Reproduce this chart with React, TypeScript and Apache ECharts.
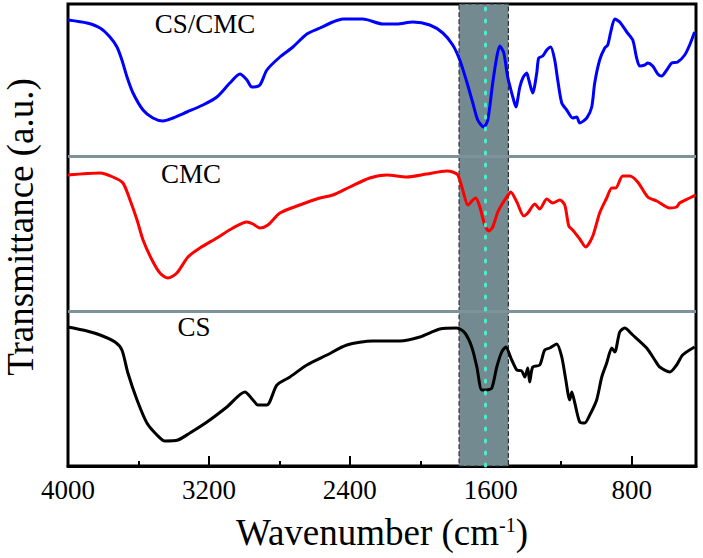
import React, { useEffect, useRef } from "react";
import * as echarts from "echarts";

// X axis ticks (wavenumber, cm^-1)
const majorTicks = [4000, 3200, 2400, 1600, 800];
const minorTicks = [3600, 2800, 2000, 1200];

// CS/CMC (blue)
const csCmcWn = [4000,3892,3818,3762,3722,3694,3665,3631,3574,3518,3461,3404,3325,3234,3155,3081,3024,2984,2956,2911,2871,2797,2723,2644,2570,2496,2440,2326,2213,2133,2043,1946,1872,1816,1776,1736,1702,1674,1640,1617,1589,1566,1549,1526,1504,1475,1458,1435,1418,1396,1384,1362,1339,1328,1305,1282,1260,1237,1220,1197,1169,1135,1112,1095,1055,1027,1010,982,953,936,919,896,868,828,794,772,755,726,709,681,652,630,601,573,539,499,471,443];
const csCmcT = [446,443,438,429,419,406,389,373,356,348,345,348,354,361,369,383,392,386,379,381,396,409,419,432,438,444,447,447,442,442,444,441,433,421,406,384,363,346,339,346,383,409,420,413,389,369,359,379,388,393,386,373,393,408,410,416,419,406,386,363,356,348,349,343,348,359,383,406,418,421,434,447,444,434,426,408,400,401,403,400,392,390,396,403,404,411,421,434];

// CMC (red)
const cmcWn = [4000,3818,3745,3688,3648,3608,3574,3523,3478,3433,3382,3319,3251,3155,3064,2984,2950,2911,2865,2797,2684,2570,2496,2400,2287,2190,2077,1963,1850,1816,1787,1759,1730,1702,1685,1662,1634,1611,1589,1560,1532,1509,1487,1452,1413,1390,1350,1322,1282,1248,1208,1180,1157,1135,1095,1061,1021,982,942,913,891,851,811,766,709,658,584,545,528,471,437];
const cmcT = [291,293,289,283,266,246,226,206,193,188,193,209,218,228,238,244,242,238,241,253,261,268,271,279,288,291,289,292,295,294,291,276,261,266,268,259,241,235,239,254,263,269,274,264,250,253,262,257,267,263,266,261,240,236,227,219,230,253,268,278,278,290,290,284,269,265,258,259,263,268,271];

// CS (black)
const csWn = [4000,3892,3818,3733,3694,3660,3608,3552,3495,3450,3376,3308,3211,3098,2996,2950,2922,2871,2814,2740,2644,2530,2417,2270,2116,2003,1889,1793,1747,1708,1679,1651,1623,1594,1566,1538,1515,1481,1452,1424,1407,1390,1379,1362,1322,1294,1265,1226,1197,1174,1152,1140,1123,1095,1067,1038,999,970,942,913,896,868,840,794,715,669,641,584,545,511,443];
const csT = [139,135,131,124,116,93,66,43,31,25,26,33,44,59,74,66,61,61,81,89,101,111,121,125,125,129,137,138,133,119,99,76,76,78,99,114,119,106,96,95,89,98,84,99,101,116,118,122,109,86,66,74,63,44,43,51,66,89,103,118,114,134,138,131,118,106,99,94,101,111,119];

// Panel separators (transmittance offsets), highlighted band and marker line
const separators = [310, 155];
const bandRange = [1780, 1500];
const markerWn = 1634;

const serif = "Liberation Serif";

const zip = (xs: number[], ys: number[]) => xs.map((x, i) => [x, ys[i]]);

export default function App() {
  const ref = useRef<HTMLDivElement>(null);
  useEffect(() => {
    document.body.style.margin = "0";
    const chart = echarts.init(ref.current!, null, { renderer: "svg" });
    const lineSeries = (name: string, data: number[][], color: string) => ({
      name,
      type: "line",
      data,
      showSymbol: false,
      symbol: "none",
      smooth: 0.25,
      z: 3,
      lineStyle: { color, width: 3 },
    });
    chart.setOption({
      animation: false,
      backgroundColor: "#fff",
      textStyle: { fontFamily: serif },
      grid: {
        left: 68,
        right: 7,
        top: 4,
        bottom: 92,
        show: true,
        borderColor: "#000",
        borderWidth: 3,
      },
      xAxis: [
        {
          type: "value",
          inverse: true,
          min: 435,
          max: 4000,
          splitLine: { show: false },
          axisLine: { show: true, lineStyle: { color: "#000", width: 3 } },
          axisTick: {
            show: true,
            inside: true,
            length: 10,
            customValues: majorTicks,
            lineStyle: { color: "#000", width: 2 },
          },
          axisLabel: {
            customValues: majorTicks,
            formatter: (v: number) => String(v),
            margin: 10,
            fontSize: 27,
            fontFamily: serif,
            color: "#000",
          },
          name: "{a|Wavenumber (cm}{s|-1}{a|)}",
          nameLocation: "middle",
          nameGap: 48,
          nameTextStyle: {
            fontFamily: serif,
            rich: {
              a: { fontSize: 37, fontFamily: serif, color: "#000" },
              s: { fontSize: 20, fontFamily: serif, color: "#000", padding: [0, 0, 16, 0] },
            },
          },
        },
        {
          type: "value",
          inverse: true,
          min: 435,
          max: 4000,
          position: "bottom",
          splitLine: { show: false },
          axisLine: { show: false },
          axisLabel: { show: false },
          axisTick: {
            show: true,
            inside: true,
            length: 5,
            customValues: minorTicks,
            lineStyle: { color: "#000", width: 2 },
          },
        },
      ],
      yAxis: { type: "value", min: 0, max: 462, show: false },
      series: [
        {
          name: "markers",
          type: "line",
          data: [],
          z: 1,
          markArea: {
            silent: true,
            itemStyle: {
              color: "#738b90",
              borderColor: "#2b2f30",
              borderWidth: 1.2,
              borderType: "dashed",
            },
            data: [[{ xAxis: bandRange[0] }, { xAxis: bandRange[1] }]],
          },
          markLine: {
            silent: true,
            symbol: "none",
            label: { show: false },
            data: [
              ...separators.map((v) => ({
                yAxis: v,
                lineStyle: { color: "#7d9399", width: 3, type: "solid" },
              })),
              {
                xAxis: markerWn,
                lineStyle: { color: "#4cedc9", width: 3, type: [2, 10], cap: "round" },
              },
            ],
          },
        },
        lineSeries("CS", zip(csWn, csT), "#000000"),
        lineSeries("CMC", zip(cmcWn, cmcT), "#ff0000"),
        lineSeries("CS/CMC", zip(csCmcWn, csCmcT), "#0000ff"),
      ],
      graphic: [
        {
          type: "text",
          x: 205,
          y: 24,
          style: { text: "CS/CMC", fontSize: 27, fontFamily: serif, fill: "#000", align: "center", verticalAlign: "middle" },
        },
        {
          type: "text",
          x: 191,
          y: 174,
          style: { text: "CMC", fontSize: 27, fontFamily: serif, fill: "#000", align: "center", verticalAlign: "middle" },
        },
        {
          type: "text",
          x: 194,
          y: 327,
          style: { text: "CS", fontSize: 27, fontFamily: serif, fill: "#000", align: "center", verticalAlign: "middle" },
        },
        {
          type: "text",
          x: 20,
          y: 227,
          rotation: Math.PI / 2,
          style: {
            text: "Transmittance (a.u.)",
            fontSize: 37,
            fontFamily: serif,
            fill: "#000",
            align: "center",
            verticalAlign: "middle",
          },
        },
      ],
    });
    return () => chart.dispose();
  }, []);
  return <div ref={ref} style={{ width: 703, height: 558 }} />;
}
